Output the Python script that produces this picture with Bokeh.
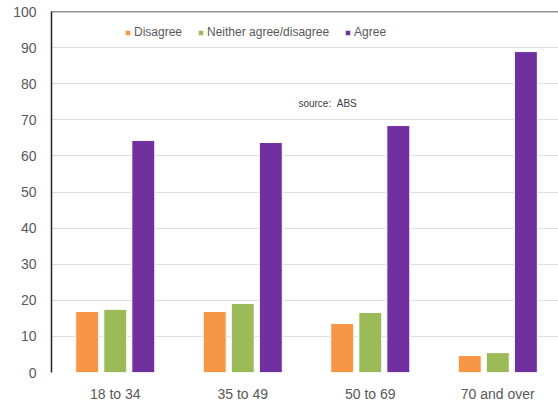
from bokeh.plotting import figure
from bokeh.models import ColumnDataSource, FixedTicker, Span, Legend, LegendItem, Label
from bokeh.embed import file_html
from bokeh.resources import INLINE

# Age groups and survey responses (%)
age_groups = ["18 to 34", "35 to 49", "50 to 69", "70 and over"]
disagree = [16.9, 16.9, 13.6, 4.7]
neither = [17.5, 19.1, 16.6, 5.5]
agree = [64.3, 63.7, 68.4, 88.9]
series_names = ["Disagree", "Neither agree/disagree", "Agree"]
y_ticks = [0, 10, 20, 30, 40, 50, 60, 70, 80, 90, 100]

colors = ["#F79646", "#9BBB59", "#7030A0"]
offsets = [-0.22, 0.0, 0.22]
bar_width = 0.18

p = figure(width=558, height=405, output_backend="svg", toolbar_location=None,
           x_range=(-0.5, 3.476), y_range=(0, 100),
           min_border_left=51, min_border_right=0, min_border_top=11, min_border_bottom=33)
p.outline_line_color = None
p.background_fill_color = "white"
p.border_fill_color = "white"

idx = list(range(len(age_groups)))
renderers = []
for vals, col, off in zip([disagree, neither, agree], colors, offsets):
    src = ColumnDataSource(dict(x=[i + off for i in idx], top=vals))
    r = p.vbar(x="x", top="top", bottom=0, width=bar_width, source=src,
               fill_color=col, line_color="white", line_width=1)
    renderers.append(r)

# Axes
p.xaxis.ticker = FixedTicker(ticks=idx)
p.xaxis.major_label_overrides = {i: g for i, g in zip(idx, age_groups)}
p.xaxis.axis_line_color = None
p.xaxis.major_tick_line_color = None
p.xaxis.major_tick_out = 0
p.xaxis.major_tick_in = 0
p.xaxis.minor_tick_line_color = None
p.xaxis.major_label_text_font = "Liberation Sans"
p.xaxis.major_label_text_font_size = "14px"
p.xaxis.major_label_text_color = "#595959"
p.xaxis.major_label_standoff = 13

p.yaxis.ticker = FixedTicker(ticks=y_ticks)
p.yaxis.axis_line_color = "#262626"
p.yaxis.axis_line_width = 1.5
p.yaxis.major_tick_line_color = None
p.yaxis.major_tick_out = 0
p.yaxis.major_tick_in = 0
p.yaxis.minor_tick_line_color = None
p.yaxis.major_label_text_font = "Liberation Sans"
p.yaxis.major_label_text_font_size = "14px"
p.yaxis.major_label_text_color = "#595959"
p.yaxis.major_label_standoff = 15

p.xgrid.grid_line_color = None
p.ygrid.ticker = FixedTicker(ticks=y_ticks)
p.ygrid.grid_line_color = "#c0c0c0"
p.ygrid.grid_line_dash = "1 1"
p.ygrid.grid_line_width = 1

# Top border of the plot frame
p.add_layout(Span(location=100, dimension="width", line_color="#262626", line_width=1.5))

# Legend across the top
legend = Legend(items=[LegendItem(label=n, renderers=[r]) for n, r in zip(series_names, renderers)],
                orientation="horizontal", location=(73, 333),
                glyph_width=7, glyph_height=7, label_standoff=3, spacing=15,
                padding=0, margin=0, border_line_color=None, background_fill_alpha=0,
                label_text_font="Liberation Sans", label_text_font_size="12px",
                label_text_color="#595959", label_height=14)
p.add_layout(legend)

p.add_layout(Label(x=1.665, y=74.6, text="source:\u00a0\u00a0ABS", text_align="center",
                   text_baseline="middle", text_font="Liberation Sans",
                   text_font_size="10px", text_color="#404040"))

open("out.html", "w").write(file_html(p, INLINE))
